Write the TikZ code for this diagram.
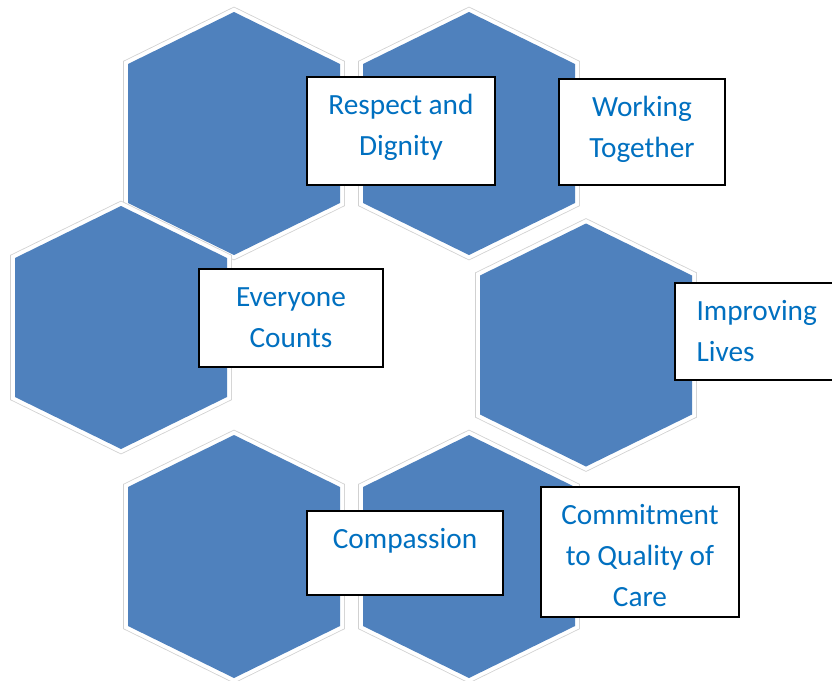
\documentclass[tikz,border=0pt]{standalone}
\usepackage{fontspec}
\setmainfont{Carlito}
\definecolor{hexblue}{HTML}{4F81BD}
\definecolor{valueblue}{HTML}{0070C0}

\begin{document}
\begin{tikzpicture}
	[x=1pt, y=-1pt,
	hexring/.style={draw=black!18, line width=0.8pt, double=white, double distance=8pt},
	hexfill/.style={fill=hexblue},
	valuebox/.style={draw, fill=white, line width=1.4pt, inner sep=0pt},
	valuetext/.style={text=valueblue, inner sep=0pt, align=center, anchor=north,
		font=\fontsize{29.3}{41}\selectfont}]
	\useasboundingbox (0,0) rectangle (832,680);
	% hexagons
	\foreach \cx/\cy in {234/133.5, 469/133.5, 121/327.5, 586/345, 234/556.5, 469/556.5} {
		\draw[hexring] (\cx,\cy) ++(0,-121.5) -- ++(106,52) -- ++(0,139) -- ++(-106,52) -- ++(-106,-52) -- ++(0,-139) -- cycle;
		\fill[hexfill] (\cx,\cy) ++(0,-121.5) -- ++(106,52) -- ++(0,139) -- ++(-106,52) -- ++(-106,-52) -- ++(0,-139) -- cycle;
	}
	% text boxes
	\node (respect) [valuebox, minimum width=188, minimum height=108] at (401,131) {};
	\node (working) [valuebox, minimum width=166, minimum height=106] at (642,132) {};
	\node (everyone) [valuebox, minimum width=184, minimum height=98] at (291,318) {};
	\node (improving) [valuebox, minimum width=165, minimum height=97] at (757.5,331.5) {};
	\node (compassion) [valuebox, minimum width=196, minimum height=84] at (405,553) {};
	\node (commitment) [valuebox, minimum width=198, minimum height=130] at (640,552) {};
	% labels
	\node (respect label) [valuetext] at ([yshift=-9.5pt]respect.north) {\strut Respect and\\Dignity};
	\node (working label) [valuetext] at ([yshift=-9.5pt]working.north) {\strut Working\\Together};
	\node (everyone label) [valuetext] at ([yshift=-9.5pt]everyone.north) {\strut Everyone\\Counts};
	\node (improving label) [valuetext, align=left, anchor=north west] at ([xshift=22pt,yshift=-9.5pt]improving.north west) {\strut Improving\\Lives};
	\node (compassion label) [valuetext] at ([yshift=-9.5pt]compassion.north) {\strut Compassion};
	\node (commitment label) [valuetext] at ([yshift=-9.5pt]commitment.north) {\strut Commitment\\to Quality of\\Care};
\end{tikzpicture}
\end{document}
